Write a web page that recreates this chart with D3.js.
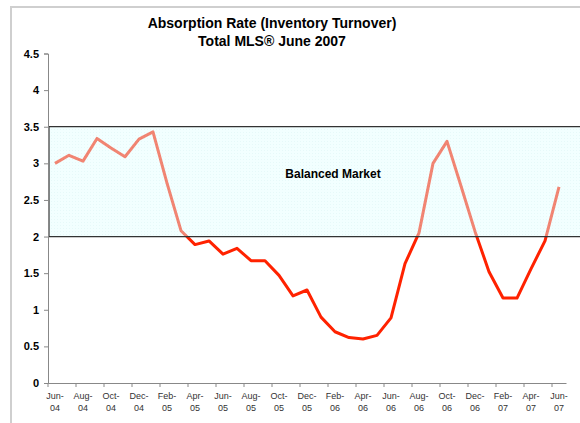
<!DOCTYPE html>
<html>
<head>
<meta charset="utf-8">
<script src="https://cdn.jsdelivr.net/npm/d3@7"></script>
<style>
  body { margin: 0; background: #fff; }
  svg { display: block; font-family: "Liberation Sans", Arial, sans-serif; }
</style>
</head>
<body>
<svg width="580" height="423"></svg>
<script>
var months = ["Jun-04","Jul-04","Aug-04","Sep-04","Oct-04","Nov-04","Dec-04",
  "Jan-05","Feb-05","Mar-05","Apr-05","May-05","Jun-05","Jul-05","Aug-05","Sep-05","Oct-05","Nov-05","Dec-05",
  "Jan-06","Feb-06","Mar-06","Apr-06","May-06","Jun-06","Jul-06","Aug-06","Sep-06","Oct-06","Nov-06","Dec-06",
  "Jan-07","Feb-07","Mar-07","Apr-07","May-07","Jun-07"];
var rates = [3.00, 3.11, 3.03, 3.34, 3.21, 3.09, 3.33,
  3.43, 2.73, 2.08, 1.89, 1.94, 1.76, 1.84, 1.67, 1.67, 1.47, 1.19, 1.27,
  0.90, 0.70, 0.62, 0.60, 0.65, 0.89, 1.63, 2.05, 3.00, 3.30, 2.69, 2.07,
  1.52, 1.16, 1.16, 1.56, 1.94, 2.68];
var yTicks = [0, 0.5, 1, 1.5, 2, 2.5, 3, 3.5, 4, 4.5];
var band = [2, 3.5];
var titleLines = ["Absorption Rate (Inventory Turnover)", "Total MLS\u00ae June 2007"];
var bandLabel = "Balanced Market";

var chart = function() {
  var svg = d3.select("svg");
  var pLeft = 48, pRight = 566, pTop = 53.5, pBottom = 383;

  var x = d3.scaleBand().domain(months).range([pLeft, pRight]);
  var y = d3.scaleLinear().domain([0, 4.5]).range([pBottom, pTop]);

  // outer frame
  svg.append("path")
    .attr("d", "M11,423 L11,7 L580,7")
    .attr("fill", "none").attr("stroke", "#cfcfcf").attr("stroke-width", 2);

  // title
  svg.selectAll(".title").data(titleLines).enter().append("text")
    .attr("class", "title")
    .attr("x", 272).attr("y", function(d, i) { return 28 + i * 18; })
    .attr("text-anchor", "middle")
    .style("font-size", "14px").style("font-weight", "bold")
    .text(function(d) { return d; });

  // line
  var line = d3.line()
    .x(function(d, i) { return x(months[i]) + x.bandwidth() / 2; })
    .y(function(d) { return y(d); });

  svg.append("path").datum(rates)
    .attr("d", line)
    .attr("fill", "none").attr("stroke", "#ff2200")
    .attr("stroke-width", 3).attr("stroke-linejoin", "round");

  // balanced market band, drawn over the line
  var defs = svg.append("defs");
  var pat = defs.append("pattern").attr("id", "dots")
    .attr("width", 3).attr("height", 3).attr("patternUnits", "userSpaceOnUse");
  pat.append("rect").attr("width", 3).attr("height", 3).attr("fill", "#e2ffff");
  pat.append("rect").attr("width", 1).attr("height", 1).attr("fill", "#c8f2f2");

  svg.append("rect")
    .attr("x", pLeft + 1).attr("y", y(band[1]))
    .attr("width", 580 - pLeft).attr("height", y(band[0]) - y(band[1]))
    .attr("fill", "url(#dots)").attr("opacity", 0.45);
  svg.append("path")
    .attr("d", "M580," + y(band[1]) + " L" + (pLeft + 1) + "," + y(band[1]) +
      " L" + (pLeft + 1) + "," + y(band[0]) + " L580," + y(band[0]))
    .attr("fill", "none").attr("stroke", "#333").attr("stroke-width", 1.2);

  svg.append("text")
    .attr("x", 333).attr("y", 178)
    .attr("text-anchor", "middle")
    .style("font-size", "12px").style("font-weight", "bold")
    .text(bandLabel);

  // y axis
  var yAxis = svg.append("g")
    .attr("transform", "translate(" + pLeft + ",0)")
    .call(d3.axisLeft(y).tickValues(yTicks).tickSize(4).tickPadding(5)
      .tickFormat(function(d) { return String(d); }));
  yAxis.select(".domain").attr("stroke", "#888");
  yAxis.selectAll(".tick line").attr("stroke", "#888");
  yAxis.selectAll("text").style("font-size", "11px").style("font-weight", "bold")
    .attr("fill", "#000");

  // x axis
  var tickMonths = months.filter(function(d, i) { return i % 2 === 0; });
  var xAxis = svg.append("g")
    .attr("transform", "translate(0," + pBottom + ")")
    .call(d3.axisBottom(x).tickValues(tickMonths).tickSize(0).tickFormat(""));
  xAxis.select(".domain").attr("stroke", "#888");
  xAxis.selectAll(".tick").remove();

  // tick marks at category boundaries every 2 months
  var bounds = d3.range(0, months.length + 1, 2).map(function(i) {
    return pLeft + i * x.step();
  });
  xAxis.selectAll(".bt").data(bounds).enter().append("line")
    .attr("class", "bt")
    .attr("x1", function(d) { return d; }).attr("x2", function(d) { return d; })
    .attr("y1", 0).attr("y2", 4).attr("stroke", "#888");

  var lab = xAxis.selectAll(".ml").data(tickMonths).enter().append("text")
    .attr("class", "ml")
    .attr("transform", function(d) { return "translate(" + (x(d) + x.bandwidth() / 2) + ",0)"; })
    .attr("text-anchor", "middle")
    .style("font-size", "9px").attr("fill", "#333");
  lab.append("tspan").attr("x", 0).attr("y", 16)
    .text(function(d) { return d.split("-")[0] + "-"; });
  lab.append("tspan").attr("x", 0).attr("y", 28)
    .text(function(d) { return d.split("-")[1]; });
}();
</script>
</body>
</html>
